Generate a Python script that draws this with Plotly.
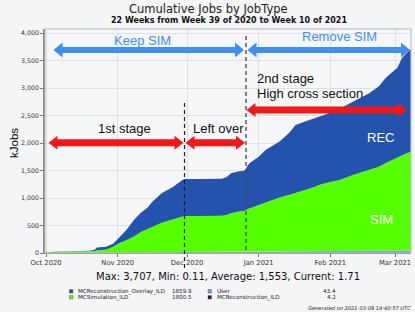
import plotly.graph_objects as go

# ---------------- data (kJobs, cumulative) ----------------
dates = ["2020-10-01", "2020-10-02", "2020-10-05", "2020-10-09", "2020-10-11", "2020-10-16",
         "2020-10-20", "2020-10-22", "2020-10-23", "2020-10-27", "2020-10-30", "2020-11-02",
         "2020-11-05", "2020-11-08", "2020-11-11", "2020-11-14", "2020-11-16", "2020-11-20",
         "2020-11-25", "2020-11-29", "2020-11-30", "2020-12-05", "2020-12-10", "2020-12-16",
         "2020-12-18", "2020-12-20", "2020-12-23", "2020-12-26", "2020-12-27", "2020-12-28",
         "2020-12-30", "2021-01-01", "2021-01-04", "2021-01-07", "2021-01-10", "2021-01-14",
         "2021-01-17", "2021-01-21", "2021-01-26", "2021-01-27", "2021-02-01", "2021-02-05",
         "2021-02-11", "2021-02-18", "2021-02-22", "2021-02-25", "2021-03-02", "2021-03-04",
         "2021-03-06", "2021-03-07 20:00"]

user = [0, 2, 3, 4, 5, 6, 7, 7, 8, 9, 10, 11, 12, 13, 14, 15, 16, 17, 18, 19, 19, 20, 21, 22,
        22, 23, 24, 24, 25, 25, 26, 26, 27, 28, 29, 30, 31, 32, 33, 34, 35, 36, 37, 38, 39, 40,
        41, 42, 43, 43.4]

sim = [0, 10, 15, 18, 20, 22, 23, 31, 40, 53, 105, 177, 224, 287, 366, 425, 463, 535, 594,
       646, 654, 654, 654, 655, 668, 698, 727, 746, 769, 785, 814, 847, 898, 948, 981, 1025,
       1059, 1113, 1182, 1202, 1255, 1294, 1387, 1477, 1531, 1596, 1699, 1738, 1772, 1800.5]

rec = [0, 3, 4, 4, 12, 12, 13, 22, 50, 52, 55, 109, 194, 300, 350, 390, 454, 533, 594, 665,
       672, 672, 673, 675, 686, 727, 728, 730, 776, 820, 851, 878, 948, 974, 1014, 1121, 1237,
       1243, 1245, 1249, 1260, 1290, 1334, 1394, 1460, 1546, 1624, 1765, 1815, 1859.9]

rec_ild = [0] * 21 + [0.5, 0.8, 1, 1, 1.2, 1.4, 1.5, 1.6, 1.7, 1.8, 2, 2.1, 2.2, 2.4, 2.5,
                      2.7, 2.8, 3, 3, 3.2, 3.3, 3.5, 3.7, 3.8, 3.9, 4, 4.1, 4.2, 4.2]

legend_names = ["MCReconstruction_Overlay_ILD", "MCSimulation_ILD", "User", "MCReconstruction_ILD"]
legend_values = ["1859.9", "1800.5", "43.4", "4.2"]
y_ticks = [0, 500, 1000, 1500, 2000, 2500, 3000, 3500, 4000]

# ---------------- layout geometry ----------------
W, H = 415, 312
ML, MR, MT, MB = 45, 4, 29, 59
PW, PH = W - ML - MR, H - MT - MB


def px(x):
    return (x - ML) / PW


def py(y):
    return (H - MB - y) / PH


C_REC = "#2453ad"
C_SIM = "#55ff00"
C_USER = "#8c9cf0"
C_RILD = "#5a0f14"
C_BLUE = "#3f8ff0"
C_RED = "#f01818"
DJ = "DejaVu Sans"
AR = "Liberation Sans, Arial"

fig = go.Figure()
for name, vals, col in [("User", user, C_USER), ("MCSimulation_ILD", sim, C_SIM),
                        ("MCReconstruction_Overlay_ILD", rec, C_REC),
                        ("MCReconstruction_ILD", rec_ild, C_RILD)]:
    fig.add_trace(go.Scatter(x=dates, y=vals, name=name, stackgroup="one", mode="lines",
                             line=dict(width=0, color=col), fillcolor=col,
                             showlegend=False, hoverinfo="skip"))

shapes = []
annos = []


def arrow(x1, x2, y, color, s, h, L):
    pts = [(x1, y), (x1 + L, y - h), (x1 + L, y - s), (x2 - L, y - s), (x2 - L, y - h), (x2, y),
           (x2 - L, y + h), (x2 - L, y + s), (x1 + L, y + s), (x1 + L, y + h)]
    path = "M " + " L ".join(f"{px(a):.5f},{py(b):.5f}" for a, b in pts) + " Z"
    shapes.append(dict(type="path", path=path, xref="paper", yref="paper",
                       fillcolor=color, line=dict(width=0), layer="above"))


def text(t, x, y, size, color="#111", font=AR, xanchor="center", **kw):
    annos.append(dict(text=t, x=px(x), y=py(y), xref="paper", yref="paper", showarrow=False,
                      xanchor=xanchor, yanchor="middle", font=dict(size=size, color=color, family=font), **kw))


# frame
shapes.append(dict(type="rect", xref="paper", yref="paper", x0=0, x1=1, y0=0, y1=1,
                   line=dict(color="#b8b8b8", width=1), layer="above"))

# dashed vertical separators
shapes.append(dict(type="line", xref="paper", yref="paper", x0=px(184.5), x1=px(184.5),
                   y0=py(103), y1=py(269), line=dict(color="#222", width=1.2, dash="4px,3px"), layer="above"))
shapes.append(dict(type="line", xref="paper", yref="paper", x0=px(246), x1=px(246),
                   y0=py(36), y1=py(253), line=dict(color="#444", width=1.3, dash="4px,3px"), layer="above"))

# arrows
arrow(53.5, 244, 50, C_BLUE, 3, 7.5, 9)
arrow(247.5, 410, 50, C_BLUE, 3, 7.5, 9)
arrow(48.5, 183.5, 142.7, C_RED, 3.5, 7, 9)
arrow(185.5, 245, 142.7, C_RED, 3.5, 7, 9)
arrow(246.5, 407, 110, C_RED, 3.5, 7, 9)

text("Keep SIM", 142.7, 40.5, 13, C_BLUE)
text("Remove SIM", 339, 36, 13, C_BLUE)
text("1st stage", 124, 128.3, 13)
text("Left over", 218, 128.3, 13)
text("2nd stage", 255, 78.3, 13, xanchor="left")
text("High cross section", 255, 93.5, 13, xanchor="left")
text("REC", 380, 137, 13, "white")
text("SIM", 381, 219.5, 13, "white")

# titles / stats
text("Cumulative Jobs by JobType", 208, 9, 11.5, "#222", DJ)
text("<b>22 Weeks from Week 39 of 2020 to Week 10 of 2021</b>", 229, 21, 8, "#111", DJ)
text("Max: 3,707, Min: 0.11, Average: 1,553, Current: 1.71", 228, 276.5, 10, "#111", DJ)
text("<i>Generated on 2021-03-09 14:40:57 UTC</i>", 412.5, 308, 5.1, "#222", DJ, xanchor="right")
text("kJobs", 14, 143, 11.5, "#111", AR, textangle=-90)

# legend
leg_rows = [(291.3, 0), (297.3, 1), (291.3, 2), (297.3, 3)]
leg_cols = [C_REC, C_SIM, C_USER, C_RILD]
for i, (yy, k) in enumerate(leg_rows):
    left = i < 2
    sx = 69.5 if left else 208
    shapes.append(dict(type="rect", xref="paper", yref="paper", x0=px(sx), x1=px(sx + 3.4),
                       y0=py(yy + 1.7), y1=py(yy - 1.7), fillcolor=leg_cols[k],
                       line=dict(color="#333", width=0.4)))
    text(legend_names[k], sx + 6.5, yy, 5.6, "#222", DJ, xanchor="left")
    text(legend_values[k], 193.5 if left else 337.5, yy, 5.6, "#222", DJ, xanchor="right")

fig.update_layout(
    width=W, height=H, margin=dict(l=ML, r=MR, t=MT, b=MB),
    paper_bgcolor="#f3f5f7", plot_bgcolor="#f6f7f9",
    shapes=shapes, annotations=annos, showlegend=False,
    xaxis=dict(type="date", range=["2020-09-30 13:00", "2021-03-07 22:00"],
               tick0="2020-10-01", dtick="M1", tickformat="%b %Y",
               showgrid=True, gridcolor="#dde1e6", gridwidth=1,
               ticks="outside", ticklen=3, tickcolor="#777",
               showline=True, linecolor="#8a8a8a", linewidth=1.2,
               tickfont=dict(family=DJ, size=6.8, color="#333"), zeroline=False),
    yaxis=dict(range=[0, 4075], tickvals=y_ticks, tickformat=",d",
               showgrid=True, gridcolor="#dde1e6", gridwidth=1,
               ticks="outside", ticklen=3, tickcolor="#777",
               showline=True, linecolor="#8a8a8a", linewidth=1.5,
               tickfont=dict(family=DJ, size=6.3, color="#333"), zeroline=False),
)

fig.write_html("out.html", config={"displayModeBar": False},
               post_script="document.body.style.margin='0';document.body.style.overflow='hidden';")
